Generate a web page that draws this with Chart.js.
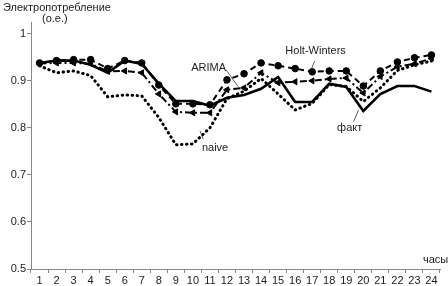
<!DOCTYPE html>
<html>
<head>
<meta charset="utf-8">
<script src="https://cdn.jsdelivr.net/npm/chart.js@4/dist/chart.umd.min.js"></script>
<style>
  html, body { margin: 0; padding: 0; background: #fff; }
  #box { width: 448px; height: 286px; position: relative; }
</style>
</head>
<body>
<div id="box"><canvas id="grafico"></canvas></div>
<script>
// часы
var horas = ['1','2','3','4','5','6','7','8','9','10','11','12','13','14','15','16','17','18','19','20','21','22','23','24'];

// значения (о.е.)
var fakt = [0.938, 0.943, 0.943, 0.934, 0.917, 0.943, 0.936, 0.894, 0.857, 0.857, 0.847, 0.864, 0.870, 0.883, 0.908, 0.855, 0.855, 0.894, 0.887, 0.836, 0.872, 0.889, 0.889, 0.877];
var holtWinters = [0.938, 0.943, 0.945, 0.945, 0.926, 0.943, 0.938, 0.891, 0.851, 0.851, 0.849, 0.902, 0.915, 0.938, 0.932, 0.926, 0.919, 0.921, 0.921, 0.889, 0.921, 0.940, 0.949, 0.955];
var arima = [0.937, 0.938, 0.938, 0.936, 0.920, 0.921, 0.917, 0.872, 0.834, 0.832, 0.832, 0.881, 0.885, 0.917, 0.896, 0.898, 0.900, 0.904, 0.906, 0.874, 0.909, 0.930, 0.936, 0.948];
var naive = [0.932, 0.917, 0.921, 0.911, 0.866, 0.870, 0.868, 0.822, 0.764, 0.766, 0.800, 0.862, 0.878, 0.905, 0.872, 0.838, 0.852, 0.892, 0.888, 0.856, 0.885, 0.922, 0.934, 0.942];

var yTicks = [0.5, 0.6, 0.7, 0.8, 0.9, 1];

// подписи серий: текст, позиция подписи (индекс часа, значение), конец выноски
var rotulos = [
  { texto: 'ARIMA', x: 9.92, y: 0.928, x1: 10.95, y1: 0.923, x2: 11.65, y2: 0.888 },
  { texto: 'Holt-Winters', x: 16.2, y: 0.964, x1: 16.15, y1: 0.942, x2: 15.95, y2: 0.925 },
  { texto: 'naive', x: 10.3, y: 0.757, x1: 9.6, y1: 0.776, x2: 9.42, y2: 0.794 },
  { texto: 'факт', x: 18.2, y: 0.800, x1: 18.43, y1: 0.813, x2: 18.72, y2: 0.838 }
];

var fonte = '"Liberation Sans", Arial, sans-serif';

// desenha textos dos eixos e as legendas com setinhas
var pluginTextos = {
  id: 'textos',
  afterDraw: function (chart) {
    var ctx = chart.ctx;
    var sx = chart.scales.x, sy = chart.scales.y;
    ctx.save();
    ctx.fillStyle = '#222';
    ctx.font = '11px ' + fonte;
    ctx.textBaseline = 'middle';
    ctx.textAlign = 'left';
    ctx.fillText('Электропотребление', 3, 8);
    ctx.fillText('(о.е.)', 42, 19);
    ctx.fillText('часы', 423, 260);

    ctx.strokeStyle = '#333';
    ctx.lineWidth = 0.8;
    ctx.textAlign = 'center';
    rotulos.forEach(function (r) {
      ctx.fillText(r.texto, sx.getPixelForValue(r.x), sy.getPixelForValue(r.y));
      ctx.beginPath();
      ctx.moveTo(sx.getPixelForValue(r.x1), sy.getPixelForValue(r.y1));
      ctx.lineTo(sx.getPixelForValue(r.x2), sy.getPixelForValue(r.y2));
      ctx.stroke();
    });
    ctx.restore();
  }
};

var dados = {
  labels: horas,
  datasets: [
    {
      label: 'naive',
      data: naive,
      borderColor: '#000',
      borderWidth: 3,
      borderDash: [0.5, 4.5],
      borderCapStyle: 'round',
      pointRadius: 0,
      tension: 0
    },
    {
      label: 'ARIMA',
      data: arima,
      borderColor: '#000',
      backgroundColor: '#000',
      borderWidth: 2,
      borderDash: [7, 3, 2, 3],
      pointStyle: 'triangle',
      rotation: -90,
      pointRadius: 3.5,
      pointBorderWidth: 1,
      tension: 0
    },
    {
      label: 'Holt-Winters',
      data: holtWinters,
      borderColor: '#000',
      backgroundColor: '#000',
      borderWidth: 2,
      borderDash: [6, 4],
      pointStyle: 'circle',
      pointRadius: 3.3,
      pointBorderWidth: 1,
      tension: 0
    },
    {
      label: 'факт',
      data: fakt,
      borderColor: '#000',
      borderWidth: 2.6,
      pointRadius: 0,
      tension: 0
    }
  ]
};

const config = {
  type: 'line',
  data: dados,
  options: {
    responsive: true,
    maintainAspectRatio: false,
    animation: false,
    layout: { padding: { left: 0, right: 8, top: 22, bottom: 0 } },
    plugins: {
      legend: { display: false },
      tooltip: { enabled: false }
    },
    scales: {
      x: {
        type: 'category',
        offset: true,
        grid: { display: true, drawOnChartArea: false, offset: true, tickLength: 4, color: '#888' },
        border: { display: true, color: '#888', width: 1 },
        ticks: { color: '#222', font: { family: fonte, size: 11 }, padding: 1, maxRotation: 0, autoSkip: false },
        afterFit: function (scale) { scale.height = 17; }
      },
      y: {
        min: 0.5,
        max: 1.025,
        afterBuildTicks: function (axis) {
          axis.ticks = yTicks.map(function (v) { return { value: v }; });
        },
        grid: { display: true, drawOnChartArea: false, tickLength: 4, color: '#888' },
        border: { display: true, color: '#888', width: 1 },
        ticks: {
          color: '#222',
          font: { family: fonte, size: 11 },
          padding: 1,
          callback: function (v) { return String(Math.round(v * 10) / 10); }
        },
        afterFit: function (scale) { scale.width = 31; }
      }
    }
  },
  plugins: [pluginTextos]
};

let chart_consumo = new Chart(document.getElementById('grafico'), config);
</script>
</body>
</html>
